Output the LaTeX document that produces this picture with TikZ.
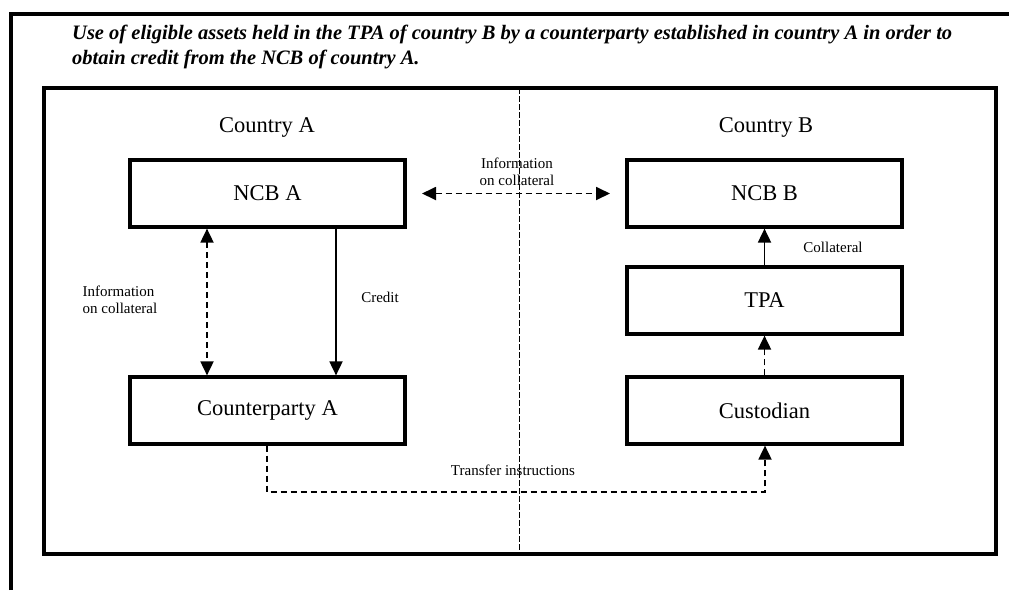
\documentclass[tikz,border=0pt]{standalone}
\usepackage{fontspec}
\setmainfont{Liberation Serif}
\usetikzlibrary{arrows.meta}
\begin{document}
\begin{tikzpicture}[x=1pt,y=-1pt,
  box/.style={draw,line width=3.2pt,minimum width=275pt,minimum height=67pt,font=\fontsize{22.5}{26}\selectfont,inner sep=0pt},
  lab/.style={font=\fontsize{15}{17}\selectfont,align=center,inner sep=0pt},
  tip/.style={},
  arr/.style={line width=1.8pt,-{Triangle[length=14pt,width=13pt]}},
  darr/.style={arr,dash pattern=on 6pt off 4pt},
  titlef/.style={anchor=base west,inner sep=0pt,font=\fontsize{20.5}{25}\selectfont\bfseries\itshape},
  frame/.style={line width=3.2pt}]
\useasboundingbox (0,0) rectangle (1009,590);
\draw[frame] (11,590) -- (11,14) -- (1012,14);
\node[titlef] (title1) at (72,39) {Use of eligible assets held in the TPA of country B by a counterparty established in country A in order to};
\node[titlef] (title2) at (72,64) {obtain credit from the NCB of country A.};
\draw[frame] (44,88) rectangle (996,554);
\draw[line width=0.8pt,dash pattern=on 6pt off 2pt] (519,88) -- (519,554);
\node[font=\fontsize{22.5}{26}\selectfont,anchor=base] (ca) at (267,132) {Country A};
\node[font=\fontsize{22.5}{26}\selectfont,anchor=base] (cb) at (766,132) {Country B};
\node[box] (ncba) at (267.5,193.5) {NCB A};
\node[box] (ncbb) at (764.5,193.5) {NCB B};
\node[box] (tpa) at (764.5,300.5) {TPA};
\node[box] (cust) at (764.5,410.5) {Custodian};
\node[box] (cpa) at (267.5,410.5) {Counterparty A};
\coordinate (l1) at (422,193.5);
\coordinate (r1) at (610,193.5);
\draw[darr,{Triangle[length=14pt,width=13pt]}-{Triangle[length=14pt,width=13pt]}] (l1) -- (r1);
\node[lab] (l_info1) at (517,172) {Information\\on collateral};
\draw[darr,{Triangle[length=14pt,width=13pt]}-{Triangle[length=14pt,width=13pt]}] (ncba.south -| 207,0) -- (cpa.north -| 207,0);
\node[lab,align=left] (l_info2) at (120,300) {Information\\on collateral};
\draw[arr] (ncba.south -| 336,0) -- (cpa.north -| 336,0);
\node[lab] (l_credit) at (380,297) {Credit};
\draw[arr] (tpa.north) -- (ncbb.south);
\node[lab] (l_coll) at (833,247) {Collateral};
\draw[darr] (cust.north) -- (tpa.south);
\coordinate (c1) at (267,492);
\coordinate (c2) at (765,492);
\draw[darr] (cpa.south -| c1) -- (c1) -- (c2) -- (cust.south -| c2);
\node[lab] (l_tr) at (513,470) {Transfer instructions};
\end{tikzpicture}
\end{document}
